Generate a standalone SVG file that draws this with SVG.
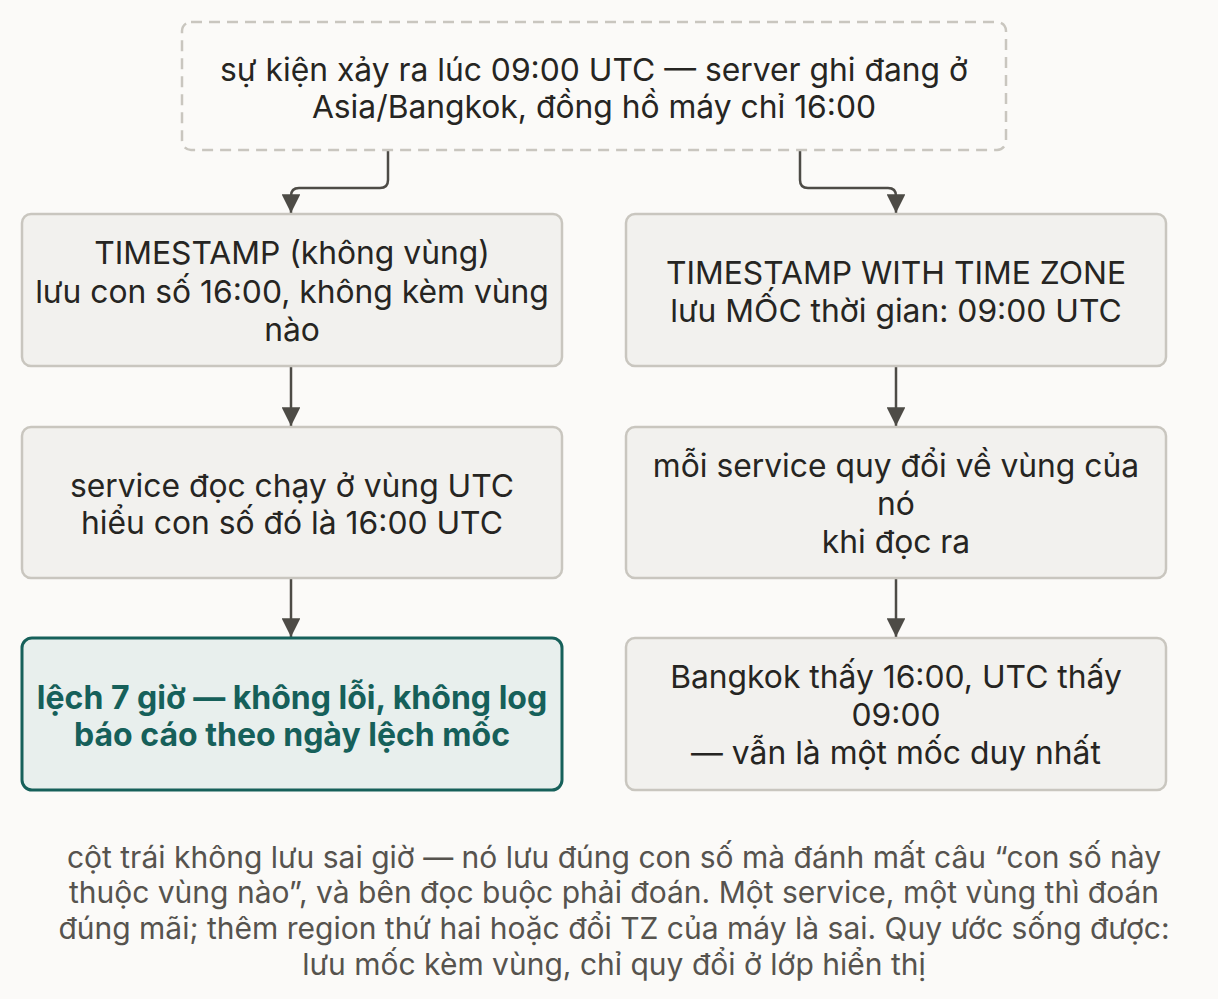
<svg xmlns="http://www.w3.org/2000/svg" width="1218" height="999" viewBox="0 0 1218 999">
<style>
.node{fill:#f2f1ee;stroke:#c9c6bf;stroke-width:2.5}
.t{font-family:Inter,"Noto Sans",sans-serif;font-size:31.8px;fill:#262522;text-anchor:middle;dominant-baseline:central}
.g{font-family:Inter,"Noto Sans",sans-serif;font-size:32px;font-weight:700;fill:#16605a;text-anchor:middle;dominant-baseline:central}
.n{font-family:Inter,"Noto Sans",sans-serif;font-size:30px;fill:#56534e;text-anchor:middle;dominant-baseline:central}
.c{fill:none;stroke:#4d4b46;stroke-width:2.5}
</style>
<defs>
<marker id="ah" viewBox="0 0 10 10" refX="10" refY="5" markerWidth="7.5" markerHeight="7.5" markerUnits="strokeWidth" orient="auto">
<path d="M0,0 L10,5 L0,10 z" fill="#4d4b46"/>
</marker>
</defs>
<rect width="1218" height="999" fill="#fbfaf8"/>
<g id="connectors">
<path class="c" d="M388,151 V180 Q388,188 380,188 H299 Q291,188 291,196 V213" marker-end="url(#ah)"/>
<path class="c" d="M800,151 V180 Q800,188 808,188 H888 Q896,188 896,196 V213" marker-end="url(#ah)"/>
<path class="c" d="M291,367 V426" marker-end="url(#ah)"/>
<path class="c" d="M291,579 V637" marker-end="url(#ah)"/>
<path class="c" d="M896,367 V426" marker-end="url(#ah)"/>
<path class="c" d="M896,579 V637" marker-end="url(#ah)"/>
</g>
<g id="event">
<rect x="182" y="22" width="824" height="128" rx="9" fill="#fbfaf8" stroke="#c9c6bf" stroke-width="2.5" stroke-dasharray="11 7"/>
<text class="t" x="594" y="69">sự kiện xảy ra lúc 09:00 UTC — server ghi đang ở</text>
<text class="t" x="594" y="106">Asia/Bangkok, đồng hồ máy chỉ 16:00</text>
</g>
<g id="ts-left">
<rect class="node" x="22" y="214" width="540" height="152" rx="9"/>
<text class="t" x="292" y="252">TIMESTAMP (không vùng)</text>
<text class="t" x="292" y="291">lưu con số 16:00, không kèm vùng</text>
<text class="t" x="292" y="329">nào</text>
</g>
<g id="ts-right">
<rect class="node" x="626" y="214" width="540" height="152" rx="9"/>
<text class="t" x="896" y="272">TIMESTAMP WITH TIME ZONE</text>
<text class="t" x="896" y="310">lưu MỐC thời gian: 09:00 UTC</text>
</g>
<g id="read-left">
<rect class="node" x="22" y="427" width="540" height="151" rx="9"/>
<text class="t" x="292" y="485">service đọc chạy ở vùng UTC</text>
<text class="t" x="292" y="522">hiểu con số đó là 16:00 UTC</text>
</g>
<g id="read-right">
<rect class="node" x="626" y="427" width="540" height="151" rx="9"/>
<text class="t" x="896" y="465">mỗi service quy đổi về vùng của</text>
<text class="t" x="896" y="503">nó</text>
<text class="t" x="896" y="541">khi đọc ra</text>
</g>
<g id="result-left">
<rect x="22" y="638" width="540" height="152" rx="10" fill="#e8efed" stroke="#16605a" stroke-width="3"/>
<text class="g" x="292" y="697">lệch 7 giờ — không lỗi, không log</text>
<text class="g" x="292" y="734">báo cáo theo ngày lệch mốc</text>
</g>
<g id="result-right">
<rect class="node" x="626" y="638" width="540" height="152" rx="9"/>
<text class="t" x="896" y="676">Bangkok thấy 16:00, UTC thấy</text>
<text class="t" x="896" y="714">09:00</text>
<text class="t" x="896" y="752">— vẫn là một mốc duy nhất</text>
</g>
<g id="note">
<text class="n" x="614" y="857">cột trái không lưu sai giờ — nó lưu đúng con số mà đánh mất câu “con số này</text>
<text class="n" x="614" y="892">thuộc vùng nào”, và bên đọc buộc phải đoán. Một service, một vùng thì đoán</text>
<text class="n" x="614" y="928">đúng mãi; thêm region thứ hai hoặc đổi TZ của máy là sai. Quy ước sống được:</text>
<text class="n" x="614" y="964">lưu mốc kèm vùng, chỉ quy đổi ở lớp hiển thị</text>
</g>
</svg>
